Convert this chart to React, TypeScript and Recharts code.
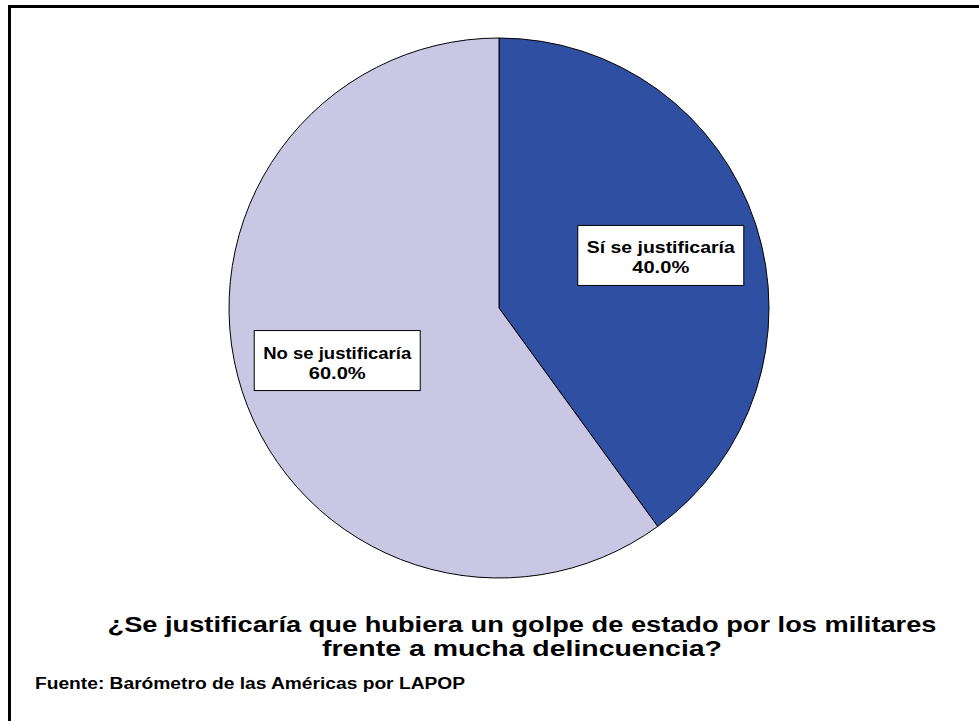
import { Cell, Pie, PieChart } from "recharts";

const categories = ["Sí se justificaría", "No se justificaría"];
const shares = [40.0, 60.0];
const sliceColors = ["#2F4FA2", "#C9C7E3"];
const titleLines = [
  "¿Se justificaría que hubiera un golpe de estado por los militares",
  "frente a mucha delincuencia?",
];
const sourceNote = "Fuente: Barómetro de las Américas por LAPOP";

const data = categories.map((name, i) => ({ name, value: shares[i] }));

const FONT = "'Liberation Sans', Arial, sans-serif";
const RAD = Math.PI / 180;
// the reference font runs wider than Liberation Sans, stretch to match
const titleWidths = [829, 400];

function SliceLabel(props: any) {
  const { cx, cy, midAngle, outerRadius, name, value } = props;
  const r = outerRadius * 0.63;
  const x = cx + r * Math.cos(-midAngle * RAD);
  const y = cy + r * Math.sin(-midAngle * RAD);
  const w = 166;
  const h = 60;
  return (
    <g>
      <rect x={x - w / 2} y={y - h / 2} width={w} height={h} fill="#fff" stroke="#000" strokeWidth={1} />
      <text
        x={x}
        y={y - 2}
        textAnchor="middle"
        fontFamily={FONT}
        fontWeight="bold"
        fontSize={17}
        fill="#000"
        textLength={148}
        lengthAdjust="spacingAndGlyphs"
      >
        {name}
      </text>
      <text
        x={x}
        y={y + 18}
        textAnchor="middle"
        fontFamily={FONT}
        fontWeight="bold"
        fontSize={17}
        fill="#000"
        textLength={57}
        lengthAdjust="spacingAndGlyphs"
      >
        {value.toFixed(1)}%
      </text>
    </g>
  );
}

export default function App() {
  return (
    <div style={{ position: "absolute", left: 0, top: 0, width: 979, height: 721, background: "#fff" }}>
      <div
        style={{
          position: "absolute",
          left: 8,
          top: 5,
          width: 980,
          height: 730,
          borderLeft: "3px solid #000",
          borderTop: "3px solid #000",
        }}
      />
      <PieChart
        width={979}
        height={721}
        margin={{ top: 0, right: 0, bottom: 0, left: 0 }}
        style={{ position: "absolute", left: 0, top: 0 }}
      >
        <Pie
          data={data}
          dataKey="value"
          nameKey="name"
          cx={499}
          cy={308}
          outerRadius={270}
          startAngle={90}
          endAngle={-270}
          stroke="#000"
          strokeWidth={1}
          label={SliceLabel}
          labelLine={false}
          isAnimationActive={false}
        >
          {data.map((d, i) => (
            <Cell key={d.name} fill={sliceColors[i]} />
          ))}
        </Pie>
      </PieChart>
      <svg width={979} height={721} style={{ position: "absolute", left: 0, top: 0, pointerEvents: "none" }}>
        {titleLines.map((line, i) => (
          <text
            key={line}
            x={522}
            y={632 + i * 24}
            textAnchor="middle"
            fontFamily={FONT}
            fontWeight="bold"
            fontSize={22}
            fill="#000"
            textLength={titleWidths[i]}
            lengthAdjust="spacingAndGlyphs"
          >
            {line}
          </text>
        ))}
        <text
          x={35}
          y={689}
          fontFamily={FONT}
          fontWeight="bold"
          fontSize={16}
          fill="#000"
          textLength={430}
          lengthAdjust="spacingAndGlyphs"
        >
          {sourceNote}
        </text>
      </svg>
    </div>
  );
}
